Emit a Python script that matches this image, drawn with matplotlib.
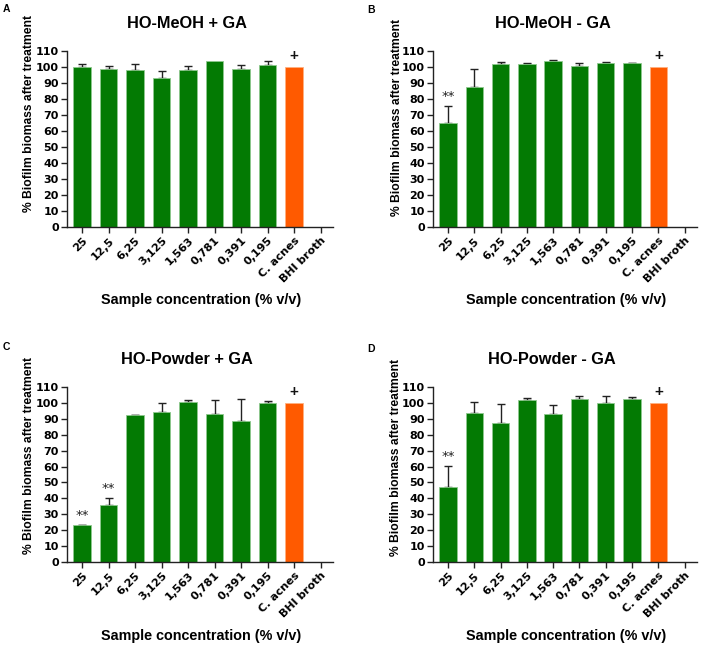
import matplotlib
matplotlib.use("Agg")
import matplotlib.pyplot as plt
import numpy as np

plt.rcParams['font.family'] = ['Liberation Sans', 'DejaVu Sans']

categories = ["25", "12,5", "6,25", "3,125", "1,563", "0,781", "0,391", "0,195", "C. acnes", "BHI broth"]

titles = ["HO-MeOH + GA", "HO-MeOH - GA", "HO-Powder + GA", "HO-Powder - GA"]
panel_letters = ["A", "B", "C", "D"]

vals_A = [100.3, 98.8, 98.2, 92.9, 98.4, 103.5, 98.8, 101.5, 100.0, 0.0]
err_A = [1.3, 2.0, 3.7, 4.5, 2.4, 0.0, 2.5, 2.0, 0.0, 0.0]
vals_B = [64.8, 87.7, 101.6, 101.9, 103.5, 100.6, 102.5, 102.3, 100.0, 0.0]
err_B = [10.8, 11.0, 1.5, 0.3, 0.7, 1.7, 0.8, 0.3, 0.0, 0.0]
vals_C = [23.1, 36.0, 92.3, 94.2, 100.6, 93.1, 88.8, 100.2, 100.0, 0.0]
err_C = [0.3, 4.0, 0.4, 5.8, 1.3, 8.8, 13.5, 0.8, 0.0, 0.0]
vals_D = [47.2, 93.8, 87.3, 102.1, 93.3, 102.5, 100.0, 102.7, 100.0, 0.0]
err_D = [13.3, 7.0, 12.3, 1.2, 5.2, 1.7, 4.4, 0.8, 0.0, 0.0]

stars_A = ["", "", "", "", "", "", "", "", "", ""]
stars_B = ["**", "", "", "", "", "", "", "", "", ""]
stars_C = ["**", "**", "", "", "", "", "", "", "", ""]
stars_D = ["**", "", "", "", "", "", "", "", "", ""]

all_vals = [vals_A, vals_B, vals_C, vals_D]
all_errs = [err_A, err_B, err_C, err_D]
all_stars = [stars_A, stars_B, stars_C, stars_D]

yticks = list(range(0, 111, 10))

GREEN = "#037A03"
ORANGE = "#FF5A00"

W, H = 708, 648
fig = plt.figure(figsize=(W / 100, H / 100), dpi=100)

# axes rectangles in pixels: (left, right, y0, ytop)
rects = [(67, 333, 227, 51), (433, 697, 227, 51), (67, 333, 562, 387), (433, 697, 562, 387)]
title_pos = [(187, 24), (553, 24), (187, 360), (552, 360)]
letter_pos = [(3, 9), (367, 10), (3, 347), (367, 349)]
ylabel_pos = [(29, 113), (397, 118), (29, 456), (396, 458)]
xlabel_pos = [(201, 300), (566, 300), (201, 636), (566, 636)]

tick_font = dict(family='DejaVu Sans', size=8, weight='bold')

for i in range(4):
    l, r, y0, yt = rects[i]
    ax = fig.add_axes([l / W, 1 - y0 / H, (r - l) / W, (y0 - yt) / H])
    x = np.arange(len(categories))
    vals = all_vals[i]
    errs = all_errs[i]
    colors = [GREEN] * 8 + [ORANGE, ORANGE]
    edgecolors = ["#8FC98F"] * 8 + ["#FFB080", "#FFB080"]
    ax.bar(x, vals, width=0.66, color=colors, edgecolor=edgecolors, linewidth=0.6, zorder=2)
    for xi, v, e in zip(x, vals, errs):
        if e > 0:
            ax.errorbar(xi, v, yerr=[[0], [e]], fmt='none', ecolor='#222222',
                        elinewidth=1.0, capsize=3, capthick=1.0, zorder=1)
    for xi, v, e, s in zip(x, vals, errs, all_stars[i]):
        if s:
            ax.text(xi, v + e + 2.0, s, ha='center', va='bottom', fontsize=9.5,
                    family='DejaVu Sans', color='#222222')
    # plus sign above C. acnes
    ax.text(8, vals[8] + 2.5, "+", ha='center', va='bottom', fontsize=11, fontweight='bold', color='#111111')

    ax.set_xlim(-0.57, 9.47)
    ax.set_ylim(0, 110)
    ax.set_yticks(yticks)
    ax.set_yticklabels([str(t) for t in yticks], fontdict=tick_font)
    ax.set_xticks(x)
    ax.set_xticklabels(categories, rotation=45, ha='right', rotation_mode='anchor',
                       fontdict=tick_font)
    ax.spines['top'].set_visible(False)
    ax.spines['right'].set_visible(False)
    for sp in ['left', 'bottom']:
        ax.spines[sp].set_linewidth(1.0)
        ax.spines[sp].set_color('#222222')
    ax.tick_params(axis='both', direction='out', length=4, width=1.0, color='#222222', pad=2)

    tx, ty = title_pos[i]
    fig.text(tx / W, 1 - ty / H, titles[i], ha='center', va='center', fontsize=11.8, fontweight='bold')
    lx, ly = letter_pos[i]
    fig.text(lx / W, 1 - ly / H, panel_letters[i], ha='left', va='center', fontsize=7.5, fontweight='bold')
    yx, yy = ylabel_pos[i]
    fig.text(yx / W, 1 - yy / H, "% Biofilm biomass after treatment", ha='center', va='center',
             rotation=90, fontsize=8.7, fontweight='bold')
    xx, xy = xlabel_pos[i]
    fig.text(xx / W, 1 - xy / H, "Sample concentration (% v/v)", ha='center', va='center',
             fontsize=10.4, fontweight='bold')

fig.savefig("out.png", dpi=100)
